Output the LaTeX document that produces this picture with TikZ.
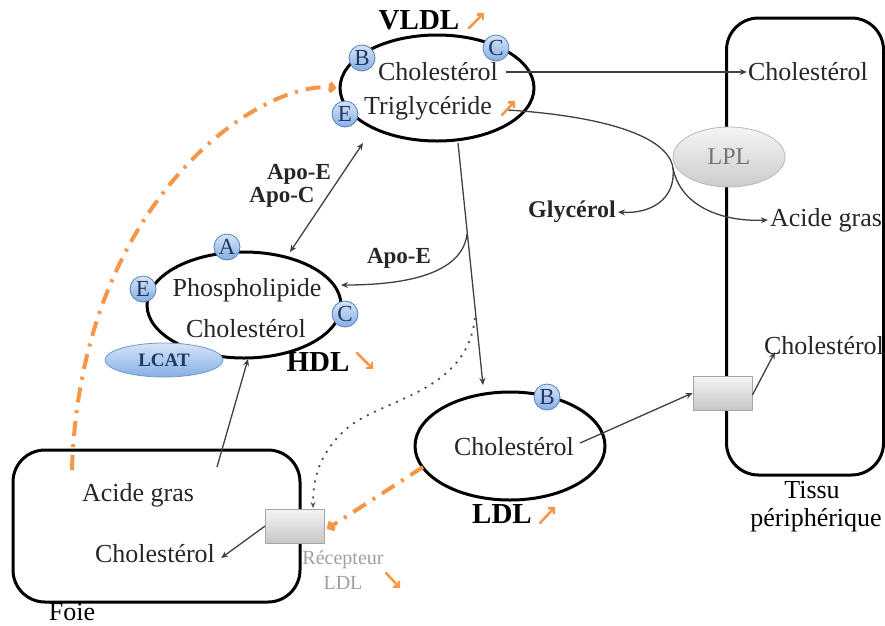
\documentclass[tikz,border=0pt]{standalone}
\usepackage{fontspec}
\setmainfont{Liberation Serif}
\usetikzlibrary{shapes.geometric,arrows.meta}
\definecolor{orng}{RGB}{247,150,70}
\definecolor{dblue}{RGB}{31,56,100}
\definecolor{lblue}{RGB}{214,228,247}
\definecolor{mblue}{RGB}{135,175,228}
\definecolor{bblue}{RGB}{79,129,189}
\definecolor{lnk}{RGB}{64,64,64}
\begin{document}
\begin{tikzpicture}[x=1pt,y=-1pt,
 lipo/.style={ellipse,draw=black,line width=3pt,inner sep=0pt},
 apo/.style={circle,draw=bblue,line width=0.8pt,top color=lblue,bottom color=mblue,minimum size=26pt,inner sep=0pt,text=dblue,font=\fontsize{23}{23}\selectfont},
 txt/.style={font=\fontsize{26}{28}\selectfont,text=black!85,inner sep=0pt},
 lbl/.style={font=\fontsize{29}{30}\selectfont\bfseries,inner sep=0pt},
 apolbl/.style={font=\fontsize{23}{24}\selectfont\bfseries,text=black!85,inner sep=0pt},
 cell/.style={rectangle,draw=black,line width=3pt,rounded corners=32pt,inner sep=0pt},
 recep/.style={rectangle,draw=gray!70,line width=0.8pt,top color=gray!8,bottom color=gray!45,minimum width=59pt,minimum height=34pt,inner sep=0pt},
 conn/.style={draw=lnk,line width=1.3pt,-{Stealth[length=7pt,width=6pt]}},
 oarr/.style={draw=orng,line width=2.5pt,line cap=round,-{Straight Barb[length=4pt,width=8pt]}},
 odash/.style={draw=orng,line width=4pt,dash pattern=on 15pt off 8pt on 3pt off 8pt,-{Straight Barb[length=4pt,width=9pt]}},
 dots/.style={draw=gray!60!black,line width=1.8pt,dash pattern=on 2pt off 6pt,-{Stealth[length=6pt,width=5pt]}},
]
\useasboundingbox (0,0) rectangle (885,625);

% cells
\node[cell,minimum width=287pt,minimum height=152pt] (foie) at (156.5,526) {};
\node[cell,minimum width=157pt,minimum height=457pt] (tissu) at (805,246.5) {};

% lipoproteins
\node[lipo,minimum width=194pt,minimum height=106pt] (vldl) at (437,88) {};
\node[lipo,minimum width=194pt,minimum height=106pt] (hdl) at (244,305) {};
\node[lipo,minimum width=190pt,minimum height=108pt] (ldl) at (510,446) {};

% LPL
\node[ellipse,draw=gray!55,line width=0.8pt,top color=gray!8,bottom color=gray!40,minimum width=112pt,minimum height=60pt,inner sep=0pt,text=gray!90!black,font=\fontsize{24}{24}\selectfont] (lpl) at (729,157) {LPL};

% receptors
\node[recep] (rfoie) at (295,526) {};
\node[recep] (rtissu) at (722.5,393) {};

% texts
\node[txt] (vchol) at (438,72) {Cholestérol};
\node[txt] (vtri) at (428,108) {Triglycéride};
\node[txt] (tchol) at (808,72) {Cholestérol};
\node[txt] (tchol2) at (824,346) {Cholestérol};
\node[txt] (tag) at (826,220) {Acide gras};
\node[apolbl,font=\fontsize{24}{24}\selectfont\bfseries] (glyc) at (572,212) {Glycérol};
\node[txt] (phos) at (247,290) {Phospholipide};
\node[txt] (hchol) at (246,329) {Cholestérol};
\node[txt] (lchol) at (514,447) {Cholestérol};
\node[txt] (fag) at (138,495) {Acide gras};
\node[txt] (fchol) at (155,554) {Cholestérol};
\node[txt,text=black] (foielbl) at (72,612) {Foie};
\node[txt,text=black] (tis1) at (812,490) {Tissu};
\node[txt,text=black] (tis2) at (816,520) {périphérique};
\node[font=\fontsize{20}{20}\selectfont,text=gray!75,inner sep=0pt] (rec1) at (343,560) {Récepteur};
\node[font=\fontsize{20}{20}\selectfont,text=gray!75,inner sep=0pt] (rec2) at (343,583) {LDL};

\node[lbl] (vlbl) at (419,20) {VLDL};
\node[lbl] (hlbl) at (318,362) {HDL};
\node[lbl] (llbl) at (502,514) {LDL};
\node[apolbl] (apoe1) at (299,174) {Apo-E};
\node[apolbl] (apoc) at (282,197) {Apo-C};
\node[apolbl] (apoe2) at (399,258) {Apo-E};

% LCAT
\node[ellipse,draw=bblue!80,line width=0.8pt,top color=lblue,bottom color=mblue,minimum width=118pt,minimum height=34pt,inner sep=0pt,text=dblue,font=\fontsize{19}{19}\selectfont\bfseries] (lcat) at (164,360) {LCAT};

% apoproteins
\node[apo] (vb) at (362,58) {B};
\node[apo] (vc) at (496,48) {C};
\node[apo] (ve) at (345,114) {E};
\node[apo] (ha) at (227,247) {A};
\node[apo] (he) at (143,289) {E};
\node[apo] (hc) at (345,314) {C};
\node[apo] (lb) at (547,397) {B};

% coordinates
\coordinate (vbot) at (458,143);
\coordinate (ldltop) at (483,385);
\coordinate (br1) at (467,234);
\coordinate (br2) at (475,318);
\coordinate (hright) at (341,285);
\coordinate (vdbl) at (363,143);
\coordinate (htop) at (290,252);
\coordinate (split) at (673,168);
\coordinate (trs) at (508,110);
\coordinate (fstart) at (217,467);
\coordinate (hbot) at (248,359);
\coordinate (ostart) at (72,470);
\coordinate (ldlleft) at (423,467);
\coordinate (rtop) at (313,508);

% connectors
\draw[conn] ([xshift=8pt]vchol.east) -- ([xshift=-1pt]tchol.west);
\draw[draw=lnk,line width=1.3pt] (trs) .. controls (600,116) and (668,135) .. (split);
\draw[conn] (split) .. controls (676,200) and (650,214) .. ([xshift=2pt]glyc.east);
\draw[conn] (split) .. controls (680,205) and (720,222) .. ([xshift=-2pt]tag.west);
\draw[conn] (vbot) -- (ldltop);
\draw[conn] (br1) .. controls (462,276) and (400,285) .. (hright);
\draw[lnk,line width=1.3pt,{Stealth[length=7pt,width=6pt]}-{Stealth[length=7pt,width=6pt]}] (vdbl) -- (htop);
\draw[conn] (fstart) -- (hbot);
\draw[dots] (br2) .. controls (466,395) and (380,398) .. (345,430) .. controls (318,455) and (313,480) .. (rtop);
\draw[conn] (rfoie.west) -- ([xshift=6pt,yshift=-4pt]fchol.east);
\draw[conn] ([xshift=6pt,yshift=4pt]lchol.east) -- (rtissu.west);
\draw[conn] ([yshift=-2pt]rtissu.east) -- (775,352);
\draw[odash] (ostart) .. controls (80,200) and (260,80) .. ([xshift=-2pt]vldl.west);
\draw[odash] (ldlleft) -- ([xshift=2pt,yshift=-3pt]rfoie.east);

% small orange trend arrows
\draw[oarr] (469,28) -- (484,13);
\draw[oarr] (502,115) -- (515,101);
\draw[oarr] (357,353) -- (373,369);
\draw[oarr] (540,523) -- (555,507);
\draw[oarr] (386,573) -- (400,588);
\end{tikzpicture}
\end{document}
